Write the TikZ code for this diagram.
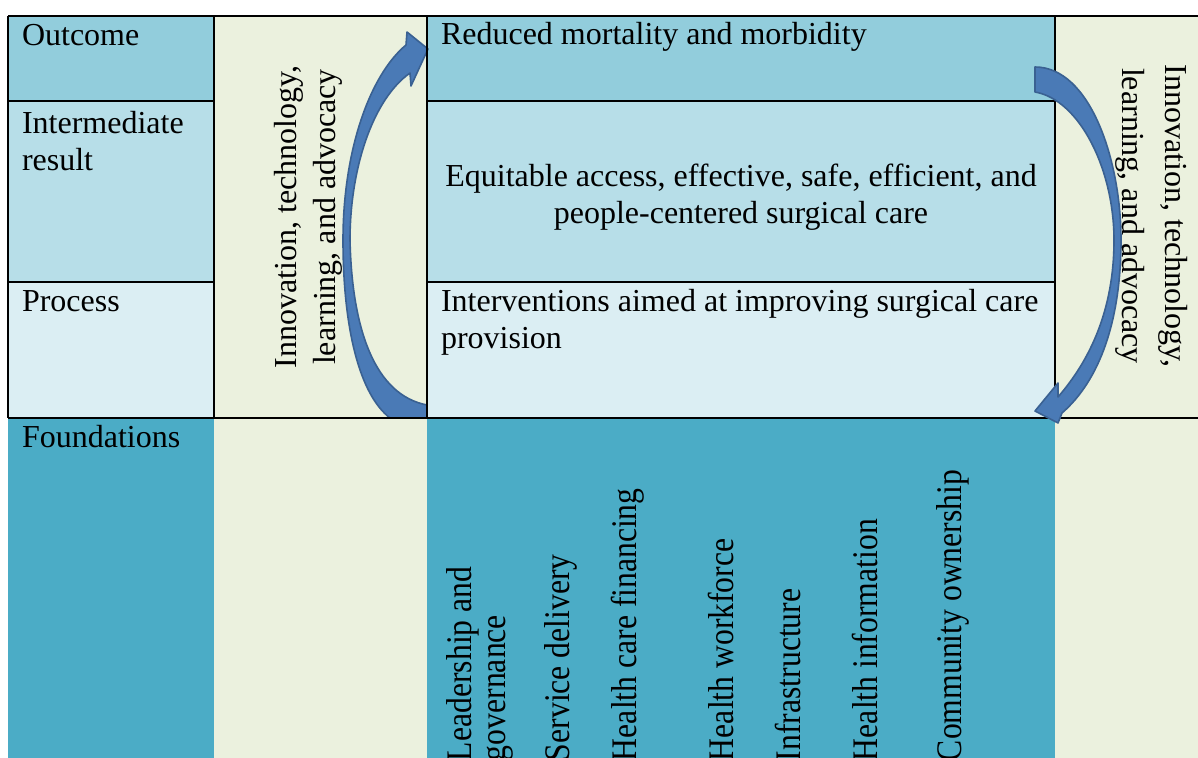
\documentclass[tikz,border=0pt]{standalone}
\usepackage{fontspec}
\setmainfont{Liberation Serif}
\newfontfamily\foundfont[FakeStretch=0.88]{Liberation Serif}
\definecolor{outc}{HTML}{92CDDC}
\definecolor{inter}{HTML}{B7DEE8}
\definecolor{proc}{HTML}{DBEEF3}
\definecolor{found}{HTML}{4BACC6}
\definecolor{pale}{HTML}{EBF1DE}
\definecolor{arrfill}{HTML}{4A7AB6}
\definecolor{arrline}{HTML}{3A6192}
\begin{document}
\begin{tikzpicture}[x=0.5pt,y=-0.5pt,
  txt/.style={font=\fontsize{16}{18.5}\selectfont, inner sep=0pt, outer sep=0pt},
  lbl/.style={txt, anchor=base west},
  vlbl/.style={txt, rotate=90, anchor=base west, font=\foundfont\fontsize{18}{17}\selectfont},
  gridline/.style={line width=1.3pt, black},
  bigarrow/.style={fill=arrfill, draw=arrline, line width=0.8pt, line join=round}]
\useasboundingbox (0,0) rectangle (1198,758);
\fill[white] (0,0) rectangle (1198,758);
% cell fills
\fill[outc]  (8,16)  rectangle (214,101);
\fill[inter] (8,101) rectangle (214,282);
\fill[proc]  (8,282) rectangle (214,418);
\fill[found] (8,418) rectangle (214,758);
\fill[pale]  (214,16) rectangle (427,758);
\fill[outc]  (427,16)  rectangle (1055,101);
\fill[inter] (427,101) rectangle (1055,282);
\fill[proc]  (427,282) rectangle (1055,418);
\fill[found] (427,418) rectangle (1055,758);
\fill[pale]  (1055,16) rectangle (1198,758);
% left curved arrow (behind the grid)
\draw[bigarrow] (390,418) .. controls (360,395) and (343,330) .. (343,240)
  .. controls (343,150) and (370,75) .. (406,45)
  -- (407,32) -- (428,49) -- (411,86) -- (410,73)
  .. controls (372,100) and (350,170) .. (350,240)
  .. controls (352,330) and (375,395) .. (427,405)
  -- (427,418) -- cycle;
% grid
\draw[gridline] (8,16) -- (1198,16);
\draw[gridline] (8,418) -- (1198,418);
\draw[gridline] (8,16) -- (8,418);
\draw[gridline] (214,16) -- (214,418);
\draw[gridline] (427,16) -- (427,418);
\draw[gridline] (1055,16) -- (1055,418);
\draw[gridline] (8,101) -- (214,101);
\draw[gridline] (427,101) -- (1055,101);
\draw[gridline] (8,282) -- (214,282);
\draw[gridline] (427,282) -- (1055,282);
% right curved arrow (in front of the grid)
\draw[bigarrow] (1035,67) .. controls (1090,67) and (1121,160) .. (1121,240)
  .. controls (1121,320) and (1100,380) .. (1062,413)
  -- (1058,423) -- (1035,411) -- (1058,383) -- (1058,397)
  .. controls (1090,360) and (1114,310) .. (1114,240)
  .. controls (1114,170) and (1080,100) .. (1035,92) -- cycle;
% row labels
\node[lbl] (outcome) at (22,46) {Outcome};
\node[txt, anchor=north west, align=left] (intermediate) at (22,111) {Intermediate\\result};
\node[lbl] (process) at (22,312) {Process};
\node[lbl] (foundations) at (22,448) {Foundations};
% main column
\node[lbl] (reduced) at (441,45) {Reduced mortality and morbidity};
\node[txt, anchor=north, align=center] (equitable) at (741,164)
  {Equitable access, effective, safe, efficient, and\\people-centered surgical care};
\node[txt, anchor=north west, align=left] (interventions) at (441,289)
  {Interventions aimed at improving surgical care\\provision};
% side texts
\node[txt, rotate=90, align=center, font=\fontsize{16}{19.5}\selectfont] (leftside) at (308,217)
  {Innovation, technology,\\learning, and advocacy};
\node[txt, rotate=-90, align=center, font=\fontsize{16}{21.5}\selectfont] (rightside) at (1152,216)
  {Innovation, technology,\\learning, and advocacy};
% foundations
\node[txt, rotate=90, anchor=north west, align=left, font=\foundfont\fontsize{18}{16.75}\selectfont] (leadership) at (447,761)
  {Leadership and\\governance};
\node[vlbl] (service) at (569,761) {Service delivery};
\node[vlbl] (financing) at (636,761) {Health care financing};
\node[vlbl] (workforce) at (733,761) {Health workforce};
\node[vlbl] (infrastructure) at (800,761) {Infrastructure};
\node[vlbl] (information) at (877,761) {Health information};
\node[vlbl] (community) at (961,761) {Community ownership};
\end{tikzpicture}
\end{document}
